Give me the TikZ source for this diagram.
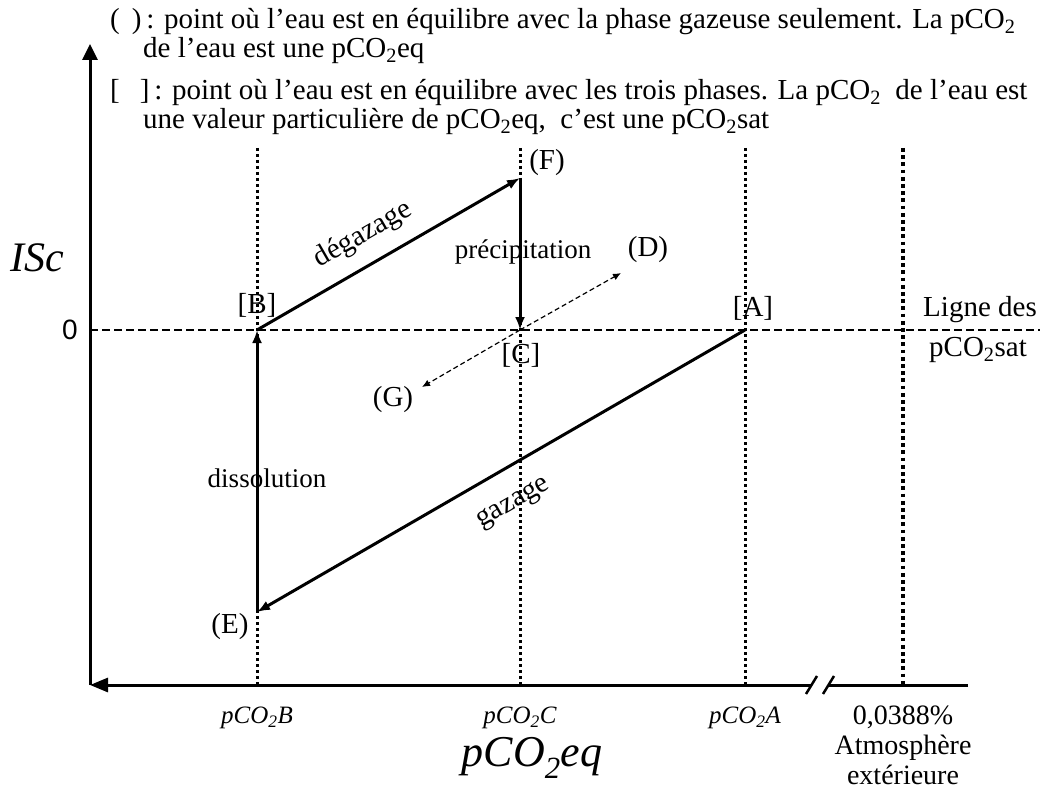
\documentclass[tikz,border=0pt]{standalone}
\usepackage{fontspec}
\setmainfont{Liberation Serif}
\newfontfamily\arialf{Liberation Sans}
\usetikzlibrary{arrows.meta}
\begin{document}
\begin{tikzpicture}[x=1pt,y=-1pt,
  leg/.style={font=\fontsize{29}{31}\selectfont, inner sep=0pt, anchor=base west},
  lbl/.style={font=\fontsize{29}{31}\selectfont, inner sep=0pt},
  proc/.style={font=\fontsize{27}{29}\selectfont, inner sep=0pt},
  tick/.style={font=\fontsize{25}{27}\selectfont\itshape, inner sep=0pt},
  axis/.style={line width=3pt},
  flow/.style={line width=3pt, -{Latex[length=13pt,width=10pt]}},
  guide/.style={line width=3pt, dash pattern=on 3pt off 3pt},
  atmguide/.style={line width=3.8pt, dash pattern=on 3.8pt off 3.4pt},
  satline/.style={line width=1.3pt, dash pattern=on 8pt off 4pt},
  trend/.style={line width=1.2pt, dash pattern=on 5pt off 3pt, -{Latex[length=8pt,width=7pt]}},
]
\useasboundingbox (0,0) rectangle (1040,791);
% coordinates
\coordinate (O) at (90,685);
\coordinate (Ytop) at (90,44);
\coordinate (Xend) at (968,685);
\coordinate (brk1) at (811,685);
\coordinate (brk2) at (829,685);
\coordinate (satL) at (90,330);
\coordinate (satR) at (1040,330);
\coordinate (B) at (257,330);
\coordinate (F) at (520,178);
\coordinate (C) at (520,330);
\coordinate (A) at (745,330);
\coordinate (E) at (257,612);
\coordinate (D) at (621,273);
\coordinate (G) at (422,387);
\coordinate (gBt) at (257,148); \coordinate (gBb) at (257,685);
\coordinate (gCt) at (520,148); \coordinate (gCb) at (520,685);
\coordinate (gAt) at (745,148); \coordinate (gAb) at (745,685);
\coordinate (gMt) at (903,148); \coordinate (gMb) at (903,685);
\coordinate (s1a) at (806,694); \coordinate (s1b) at (817,676);
\coordinate (s2a) at (823,694); \coordinate (s2b) at (834,676);

% guide lines
\draw[satline] (satL) -- (satR);
\draw[guide] (gBt) -- (gBb);
\draw[guide] (gCt) -- (gCb);
\draw[guide] (gAt) -- (gAb);
\draw[atmguide] (gMt) -- (gMb);

% axes
\draw[axis, -{Triangle[length=16pt,width=15pt]}] (O) -- (Ytop);
\draw[axis, -{Triangle[length=18pt,width=14pt]}] (brk1) -- (O);
\draw[axis] (Xend) -- (brk2);
\draw[line width=2.5pt] (s1a) -- (s1b);
\draw[line width=2.5pt] (s2a) -- (s2b);

% process arrows
\draw[flow] (B) -- (F);
\draw[flow] (F) -- (C);
\draw[flow] (A) -- (E);
\draw[flow] (E) -- (B);
\draw[trend] (C) -- (D);
\draw[trend] (C) -- (G);

% point labels
\node[lbl] (lB) at (257,305) {[B]};
\node[lbl] (lF) at (547,163) {(F)};
\node[lbl] (lC) at (521,355) {[C]};
\node[lbl] (lG) at (393,400) {(G)};
\node[lbl] (lD) at (648,250) {(D)};
\node[lbl] (lA) at (753,308) {[A]};
\node[lbl] (lE) at (230,627) {(E)};
\node[lbl] (lig1) at (980,310) {Ligne des};
\node[lbl] (lig2) at (978,350) {pCO\textsubscript{2}sat};

% process labels
\node[lbl, rotate=30] (ldeg) at (363,235) {dégazage};
\node[lbl, rotate=30] (lgaz) at (514,504) {gazage};
\node[proc] (lprec) at (523,252) {précipitation};
\node[proc] (ldiss) at (267,478) {dissolution};

% axis labels
\node[font=\fontsize{42}{44}\selectfont\itshape, inner sep=0pt] (ISc) at (37,258) {ISc};
\node[font=\arialf\fontsize{28}{30}\selectfont, inner sep=0pt] (zero) at (70,330) {0};
\node[tick] (tB) at (257,718) {pCO\textsubscript{2}B};
\node[tick] (tC) at (520,718) {pCO\textsubscript{2}C};
\node[tick] (tA) at (745,718) {pCO\textsubscript{2}A};
\node[font=\fontsize{44}{46}\selectfont\itshape, inner sep=0pt] (xlab) at (532,758) {pCO\textsubscript{2}eq};
\node[font=\fontsize{28}{30}\selectfont, inner sep=0pt, align=center] (atm) at (903,745) {0,0388\%\\Atmosphère\\extérieure};

% legend
\node[leg] (leg1) at (110,29) {(\hspace{12pt})\,: point où l’eau est en équilibre avec la phase gazeuse seulement. La pCO\textsubscript{2}};
\node[leg] (leg2) at (143,58) {de l’eau est une pCO\textsubscript{2}eq};
\node[leg] (leg3) at (110,100) {[\hspace{20pt}]\,: point où l’eau est en équilibre avec les trois phases. La pCO\textsubscript{2}\ \ de l’eau est};
\node[leg] (leg4) at (143,129) {une valeur particulière de pCO\textsubscript{2}eq,\ \ c’est une pCO\textsubscript{2}sat};
\end{tikzpicture}
\end{document}
